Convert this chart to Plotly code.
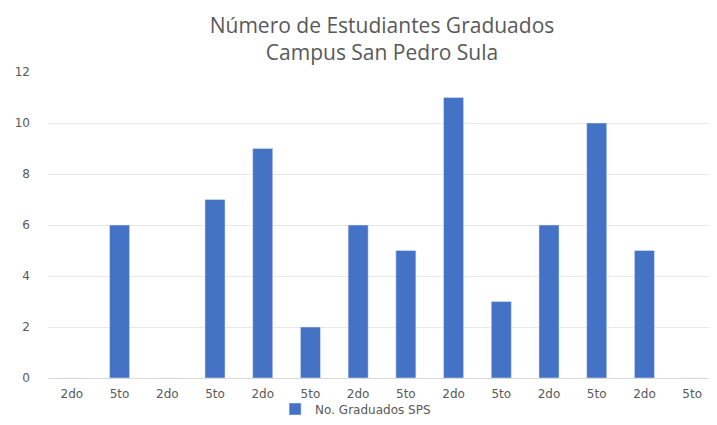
import plotly.graph_objects as go

categories = ["2do", "5to", "2do", "5to", "2do", "5to", "2do", "5to", "2do", "5to", "2do", "5to", "2do", "5to"]
values = [0, 6, 0, 7, 9, 2, 6, 5, 11, 3, 6, 10, 5, 0]
series_name = "No. Graduados SPS"
title_text = "Número de Estudiantes Graduados<br>Campus San Pedro Sula"
positions = list(range(len(categories)))

# The page body has an 8px margin, so the figure is sized to fit the 717x425 window.
W, H = 709, 417

fig = go.Figure()
fig.add_trace(go.Bar(x=positions, y=values, name=series_name, marker_color="#4472C4",
                     showlegend=True))

fig.update_layout(
    width=W, height=H,
    margin=dict(l=40, r=1, t=64, b=47),
    paper_bgcolor="white", plot_bgcolor="white",
    font=dict(family="DejaVu Sans", color="#595959"),
    title=dict(text=title_text, x=0.5, xanchor="center", xref="paper",
               yref="container", y=1 - 25 / H, yanchor="middle",
               font=dict(family="Open Sans", size=21, color="#595959")),
    bargap=0.58,
    showlegend=True,
    legend=dict(orientation="h", x=0.34, xanchor="left", yref="container",
                y=1 - 401 / H, yanchor="middle", bgcolor="rgba(0,0,0,0)",
                tracegroupgap=0, font=dict(size=12, color="#595959"), itemwidth=30),
    xaxis=dict(tickmode="array", tickvals=positions, ticktext=categories,
               range=[-0.5, len(categories) - 0.5], showgrid=False,
               showline=True, linecolor="#d9d9d9", ticks="", automargin=False,
               tickfont=dict(size=12, color="#595959"), ticklabelstandoff=5),
    yaxis=dict(range=[0, 12], dtick=2, showgrid=True, gridcolor="#e8e8e8",
               zeroline=False, ticks="", automargin=False,
               tickfont=dict(size=12, color="#595959"),
               ticklabelstandoff=17),
)

fig.write_html("out.html")
